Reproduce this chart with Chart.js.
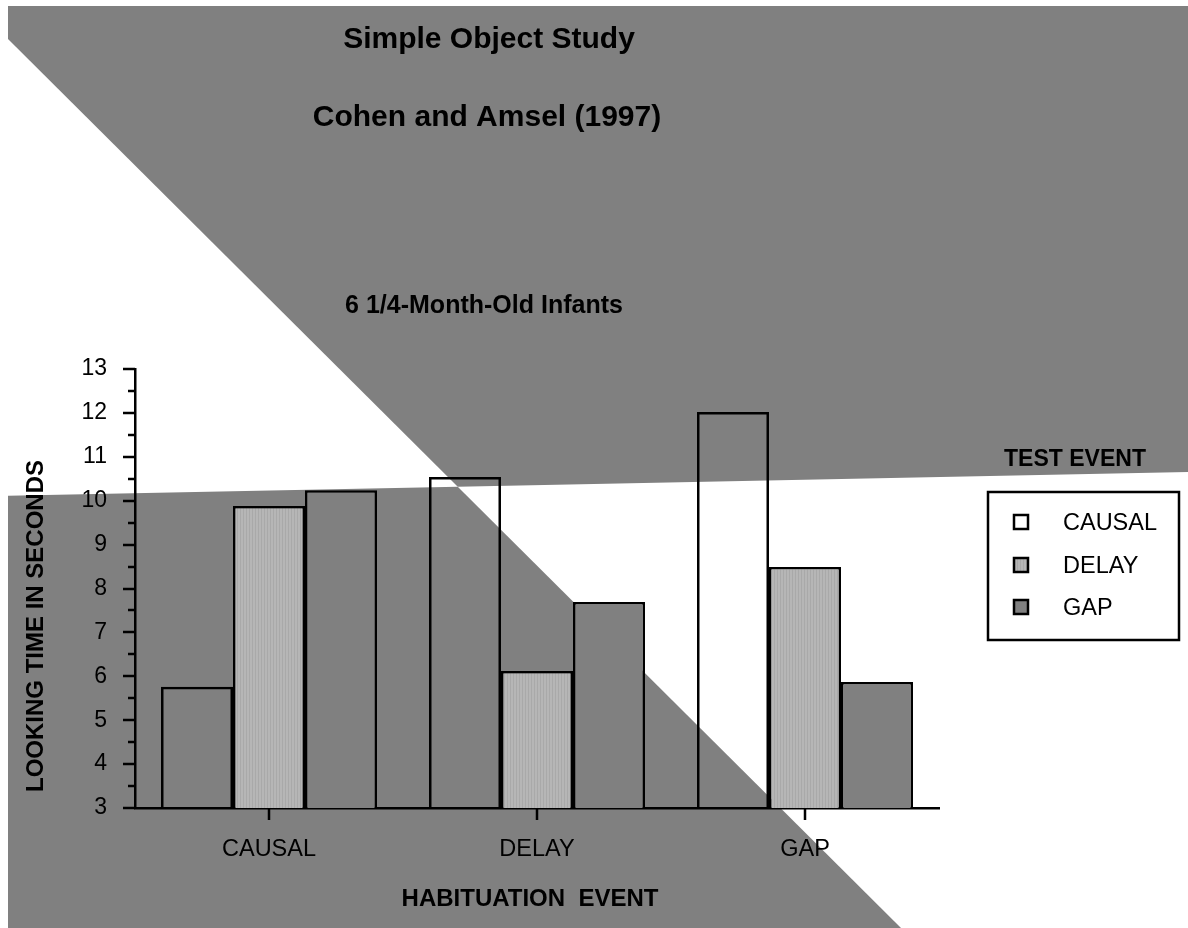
<!DOCTYPE html>
<html>
<head>
<meta charset="utf-8">
<script src="https://cdn.jsdelivr.net/npm/chart.js@4"></script>
<style>
  html, body { margin: 0; padding: 0; background: #fff; }
  canvas { display: block; }
</style>
</head>
<body>
<canvas id="chart" width="1188" height="928"></canvas>
<script>
const categories = ["CAUSAL", "DELAY", "GAP"];
const seriesNames = ["CAUSAL", "DELAY", "GAP"];
const causalTest = [5.76, 10.54, 12.02];
const delayTest = [9.88, 6.12, 8.49];
const gapTest = [10.24, 7.69, 5.87];
const yMin = 3;
const yMax = 13;

const FONT = "'Liberation Sans', Arial, sans-serif";
const GRAY = "#808080";

// light gray fill with fine vertical stripes
function stripes() {
  const c = document.createElement("canvas");
  c.width = 3;
  c.height = 4;
  const g = c.getContext("2d");
  g.fillStyle = "#b6b6b6";
  g.fillRect(0, 0, 3, 4);
  g.fillStyle = "#a9a9a9";
  g.fillRect(0, 0, 1, 4);
  return g.createPattern(c, "repeat");
}
const delayFill = stripes();

// slanted gray panels behind everything
const backdrop = {
  id: "backdrop",
  beforeDraw(chart) {
    const g = chart.ctx;
    const W = chart.width, H = chart.height;
    const lineY = (x) => 496 - (24 / 1188) * x;
    const diagX = (y) => y - 27;
    const ix = (496 - 29) / (1 + 24 / 1188);
    const iy = lineY(ix);
    g.save();
    g.fillStyle = "#fff";
    g.fillRect(0, 0, W, H);
    g.fillStyle = GRAY;
    g.beginPath();
    g.moveTo(8, 6);
    g.lineTo(W, 6);
    g.lineTo(W, lineY(W));
    g.lineTo(ix, iy);
    g.lineTo(8, 39);
    g.closePath();
    g.fill();
    g.beginPath();
    g.moveTo(8, lineY(8));
    g.lineTo(ix, iy);
    g.lineTo(diagX(H), H);
    g.lineTo(8, H);
    g.closePath();
    g.fill();
    g.restore();
  },
};

// tick marks, titles and the legend box
const decorations = {
  id: "decorations",
  afterDraw(chart) {
    const g = chart.ctx;
    const xs = chart.scales.x, ys = chart.scales.y;
    g.save();
    g.strokeStyle = "#000";
    g.lineWidth = 2.5;
    g.beginPath();
    for (let v = yMin; v <= yMax + 1e-9; v += 0.5) {
      const py = Math.round(ys.getPixelForValue(v));
      const len = Number.isInteger(v) ? 12 : 7;
      g.moveTo(ys.right - len, py);
      g.lineTo(ys.right, py);
    }
    categories.forEach((c, i) => {
      const px = Math.round(xs.getPixelForValue(i));
      g.moveTo(px, xs.top);
      g.lineTo(px, xs.top + 12);
    });
    g.stroke();

    g.fillStyle = "#000";
    g.textAlign = "center";
    g.textBaseline = "alphabetic";
    g.font = "bold 30px " + FONT;
    g.fillText("Simple Object Study", 489, 48);
    g.fillText("Cohen and Amsel (1997)", 487, 126);
    g.font = "bold 25px " + FONT;
    g.fillText("6 1/4-Month-Old Infants", 484, 313);

    g.font = "bold 24px " + FONT;
    g.fillText("HABITUATION  EVENT", 530, 906);
    g.save();
    g.translate(43, 626);
    g.rotate(-Math.PI / 2);
    g.fillText("LOOKING TIME IN SECONDS", 0, 0);
    g.restore();

    // legend
    g.font = "bold 23px " + FONT;
    g.fillText("TEST EVENT", 1075, 466);
    g.lineWidth = 2.5;
    g.strokeRect(988, 492, 191, 148);
    const rows = [522, 565, 607];
    g.textAlign = "left";
    g.font = "23.5px " + FONT;
    chart.data.datasets.forEach((ds, i) => {
      const cy = rows[i];
      g.fillStyle = "#fff";
      g.fillRect(1014, cy - 7, 14, 14);
      g.fillStyle = ds.backgroundColor;
      g.fillRect(1014, cy - 7, 14, 14);
      g.lineWidth = 2.5;
      g.strokeRect(1014, cy - 7, 14, 14);
      g.fillStyle = "#000";
      g.fillText(ds.label, 1063, cy + 8);
    });
    g.restore();
  },
};

const barStyle = {
  borderColor: "#000",
  borderWidth: 2.5,
  borderSkipped: false,
  categoryPercentage: 0.806,
  barPercentage: 1.0,
};

new Chart(document.getElementById("chart"), {
  type: "bar",
  data: {
    labels: categories,
    datasets: [
      { label: seriesNames[0], data: causalTest, backgroundColor: "rgba(0,0,0,0)", ...barStyle },
      { label: seriesNames[1], data: delayTest, backgroundColor: delayFill, ...barStyle },
      { label: seriesNames[2], data: gapTest, backgroundColor: GRAY, ...barStyle },
    ],
  },
  options: {
    responsive: false,
    animation: false,
    events: [],
    layout: { padding: { top: 369, right: 249, bottom: 0, left: 0 } },
    plugins: {
      legend: { display: false },
      title: { display: false },
      tooltip: { enabled: false },
    },
    scales: {
      x: {
        grid: { display: false, drawTicks: false },
        border: { display: true, color: "#000", width: 2.5 },
        ticks: { color: "#000", font: { family: FONT, size: 23.5 }, padding: 27 },
        afterFit(scale) { scale.height = 120; },
      },
      y: {
        min: yMin,
        max: yMax,
        grid: { display: false, drawTicks: false },
        border: { display: true, color: "#000", width: 2.5 },
        ticks: { stepSize: 1, color: "#000", font: { family: FONT, size: 23 }, padding: 28 },
        afterFit(scale) { scale.width = 135; },
      },
    },
  },
  plugins: [backdrop, decorations],
});
</script>
</body>
</html>
